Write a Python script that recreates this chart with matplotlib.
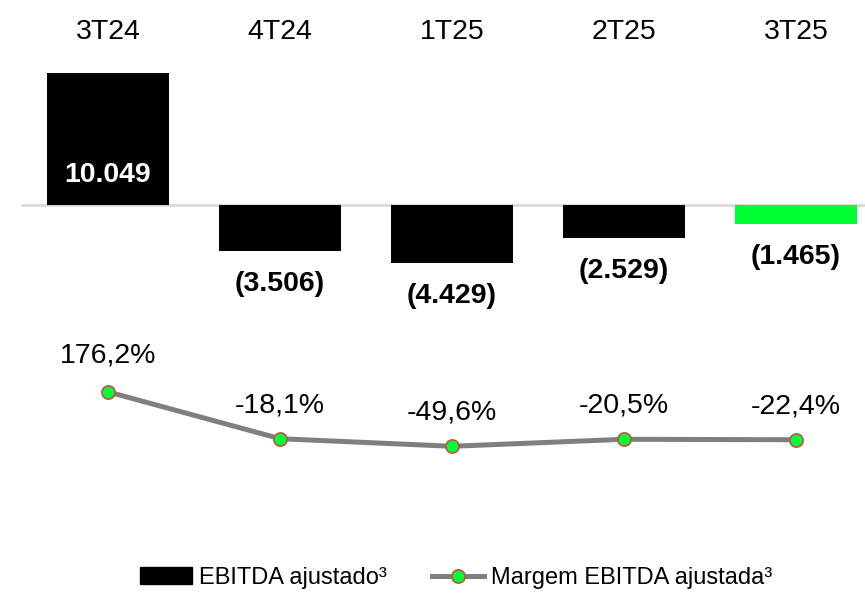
import numpy as np
import matplotlib.pyplot as plt
from matplotlib.patches import Patch
from matplotlib.lines import Line2D
import matplotlib.transforms as mtransforms

plt.rcParams['font.family'] = ['Liberation Sans', 'DejaVu Sans']

# data
trimestres = ['3T24', '4T24', '1T25', '2T25', '3T25']
ebitda = [10049, -3506, -4429, -2529, -1465]
ebitda_txt = ['10.049', '(3.506)', '(4.429)', '(2.529)', '(1.465)']
margem = [176.2, -18.1, -49.6, -20.5, -22.4]
margem_txt = ['176,2%', '-18,1%', '-49,6%', '-20,5%', '-22,4%']
cores = ['black', 'black', 'black', 'black', '#00FF33']

fig = plt.figure(figsize=(8.65, 5.98), dpi=100)
x = np.arange(len(trimestres))
xlim = (-0.628, 4.401)

# barras
ax = fig.add_axes([0, 0, 1, 1])
ax.set_xlim(*xlim)
ax.set_ylim(-29919, 15607)
ax.axis('off')
ax.plot([-0.5, xlim[1]], [0, 0], color='#D9D9D9', lw=2, zorder=1)
ax.bar(x, ebitda, width=0.71, color=cores, zorder=2)

trans = mtransforms.blended_transform_factory(ax.transData, fig.transFigure)
for i, t in enumerate(trimestres):
    ax.text(x[i], 1 - 32 / 598, t, transform=trans, ha='center', va='center',
            fontsize=20.5, color='black')

for i, v in enumerate(ebitda):
    if v >= 0:
        ax.annotate(ebitda_txt[i], (x[i], 0), xytext=(0, 21.6), textcoords='offset points',
                    ha='center', va='center', fontsize=20.5, fontweight='bold', color='white',
                    zorder=3)
    else:
        ax.annotate(ebitda_txt[i], (x[i], v), xytext=(0, -23.8), textcoords='offset points',
                    ha='center', va='center', fontsize=20.5, fontweight='bold', color='black')

# margem
ax2 = fig.add_axes([0, 0, 1, 1])
ax2.patch.set_alpha(0)
ax2.set_xlim(*xlim)
ax2.set_ylim(-679, 1802)
ax2.axis('off')
ax2.plot(x, margem, color='#7F7F7F', lw=3.6, marker='o', markersize=9.5,
         markerfacecolor='#00FF33', markeredgecolor='#C0504D', markeredgewidth=1.2)
for i, v in enumerate(margem):
    off = 26 if i == 0 else 24
    ax2.annotate(margem_txt[i], (x[i], v), xytext=(0, off), textcoords='offset points',
                 ha='center', va='center', fontsize=20.5, color='black')

handles = [Patch(facecolor='black', edgecolor='black'),
           Line2D([], [], color='#7F7F7F', lw=3.6, marker='o', markersize=9.5,
                  markerfacecolor='#00FF33', markeredgecolor='#C0504D', markeredgewidth=1.2)]
ax2.legend(handles, ['EBITDA ajustado³', 'Margem EBITDA ajustada³'], loc='center',
           bbox_to_anchor=(456 / 865, 1 - 578 / 598), bbox_transform=fig.transFigure,
           ncol=2, frameon=False, fontsize=17, handlelength=2.2, handletextpad=0.3,
           columnspacing=1.9)

fig.savefig('out.png', dpi=100)
